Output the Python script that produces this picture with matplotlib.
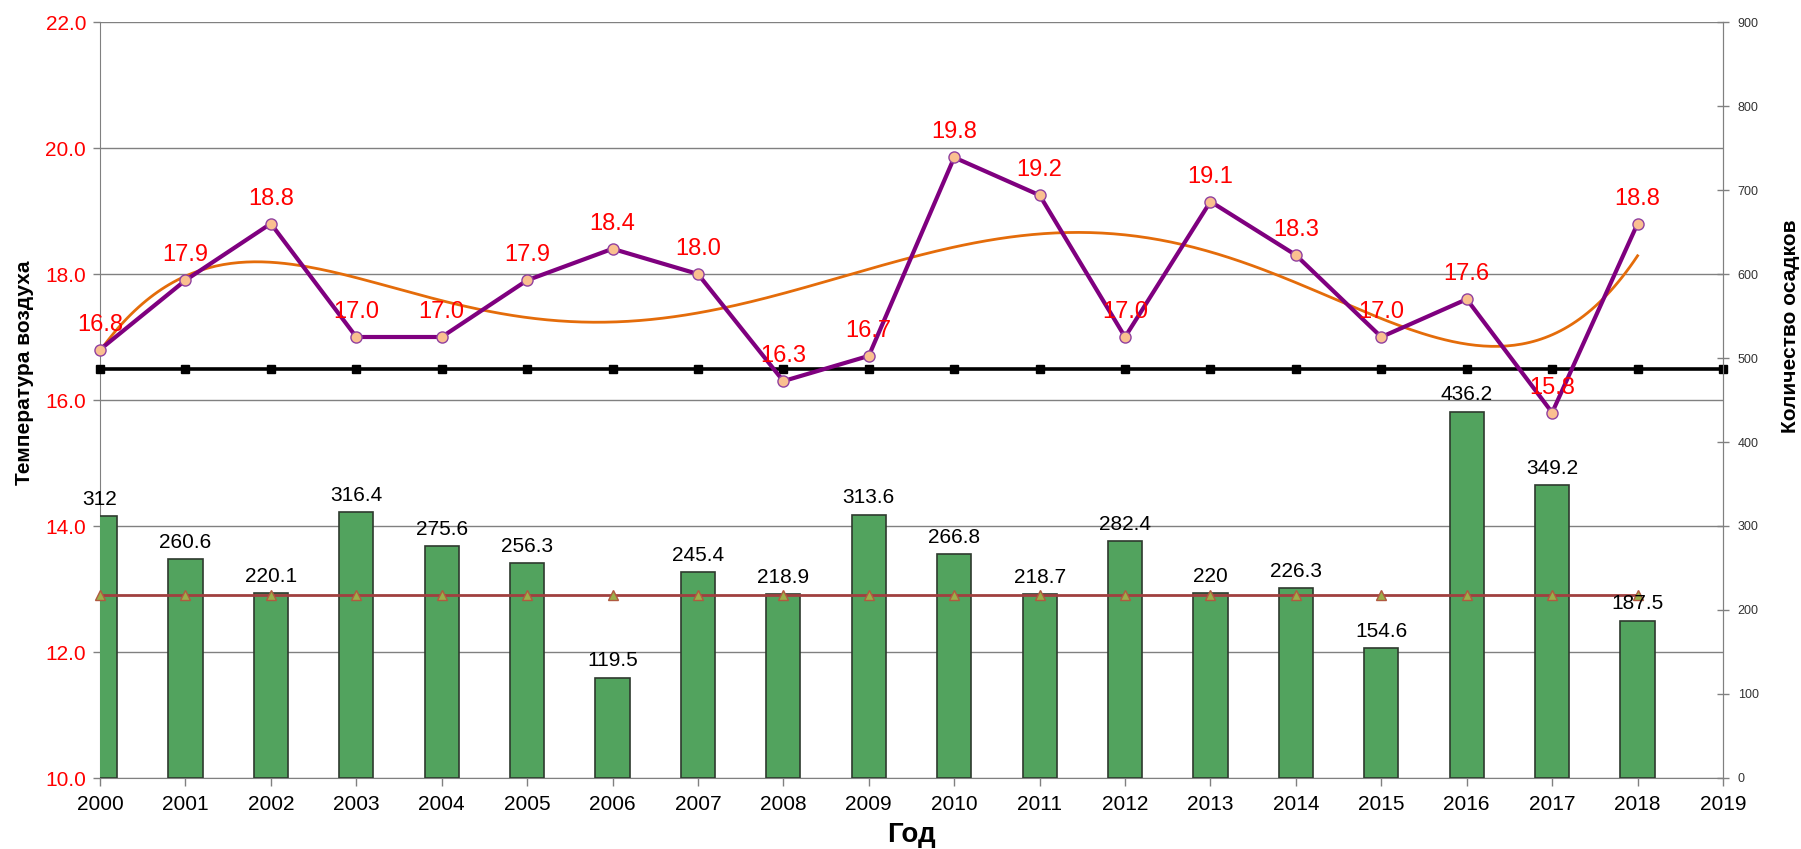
import numpy as np
import matplotlib
matplotlib.use("Agg")
import matplotlib.pyplot as plt

plt.rcParams['font.family'] = ['Liberation Sans', 'DejaVu Sans']

years = [2000, 2001, 2002, 2003, 2004, 2005, 2006, 2007, 2008, 2009,
         2010, 2011, 2012, 2013, 2014, 2015, 2016, 2017, 2018]
temperature = [16.8, 17.9, 18.8, 17.0, 17.0, 17.9, 18.4, 18.0, 16.3, 16.7,
               19.85, 19.25, 17.0, 19.15, 18.3, 17.0, 17.6, 15.8, 18.8]
temp_labels = ["16.8", "17.9", "18.8", "17.0", "17.0", "17.9", "18.4", "18.0", "16.3", "16.7",
               "19.8", "19.2", "17.0", "19.1", "18.3", "17.0", "17.6", "15.8", "18.8"]
precipitation = [312, 260.6, 220.1, 316.4, 275.6, 256.3, 119.5, 245.4, 218.9, 313.6,
                 266.8, 218.7, 282.4, 220, 226.3, 154.6, 436.2, 349.2, 187.5]
norm_years = [2000, 2001, 2002, 2003, 2004, 2005, 2006, 2007, 2008, 2009,
              2010, 2011, 2012, 2013, 2014, 2015, 2016, 2017, 2018, 2019]
temp_norm = [16.5] * len(norm_years)
precip_norm = [218] * len(years)
x_ticks = list(range(2000, 2020))

fig = plt.figure(figsize=(18.01, 8.49), dpi=100)
ax1 = fig.add_axes([100/1801, 71/849, 1623/1801, 756/849])
ax2 = ax1.twinx()

gray = '#808080'

# Left axis: temperature
ax1.set_xlim(2000, 2019)
ax1.set_ylim(10, 22)
ax1.set_yticks(np.arange(10, 22.1, 2))
ax1.set_yticklabels([f"{v:.1f}" for v in np.arange(10, 22.1, 2)])
ax1.yaxis.grid(True, color=gray, linewidth=1)
ax1.set_axisbelow(True)
ax1.set_xticks(x_ticks)
ax1.set_xticklabels([str(y) for y in x_ticks], fontsize=15)
ax1.tick_params(axis='y', colors='red', labelsize=15, length=5, width=1, direction='out', pad=5)
ax1.tick_params(axis='y', color=gray)
ax1.tick_params(axis='x', length=6, width=1, color=gray, labelcolor='black', pad=6)
for s in ['left', 'bottom', 'top']:
    ax1.spines[s].set_color(gray)
ax1.spines['top'].set_visible(False)
ax1.spines['right'].set_color(gray)

ax1.set_ylabel("Температура воздуха", fontsize=15, fontweight='bold')
ax1.yaxis.set_label_coords(-0.0407, 0.536)
ax1.set_xlabel("Год", fontsize=20, fontweight='bold', labelpad=6)

# Temperature lines
ax1.plot(norm_years, temp_norm, color='black', linewidth=2.6, marker='s',
         markersize=5.5, zorder=3, clip_on=False)
yr = np.array(years, dtype=float)
coef = np.polyfit(yr - 2000, np.array(temperature), 5)
xs = np.linspace(2000, 2018, 400)
ax1.plot(xs, np.polyval(coef, xs - 2000), color='#E46C0A', linewidth=2.0, zorder=4)
ax1.plot(years, temperature, color='#7F007F', linewidth=3.0, marker='o', markersize=8,
         markerfacecolor='#FAC090', markeredgecolor='#9040A0', markeredgewidth=1.0,
         zorder=5, clip_on=False)
for x, t, lab in zip(years, temperature, temp_labels):
    ax1.annotate(lab, (x, t), xytext=(0, 18), textcoords='offset points',
                 ha='center', va='center', color='red', fontsize=17, zorder=6)

# Right axis: precipitation
ax2.set_ylim(0, 900)
ax2.set_yticks(range(0, 901, 100))
ax2.tick_params(axis='y', labelsize=9, labelcolor='#333333', color=gray,
                direction='inout', length=9, width=1, pad=6)
ax2.spines['right'].set_color(gray)
ax2.spines['left'].set_visible(False)
ax2.spines['top'].set_visible(False)
ax2.spines['bottom'].set_visible(False)
ax2.set_ylabel("Количество осадков", fontsize=15, fontweight='bold')
ax2.yaxis.set_label_coords(1.0357, 0.597)

ax2.bar(years, precipitation, width=0.4, color='#52A35E', edgecolor='#2E3A2E',
        linewidth=1.2, zorder=2)
ax2.plot(years, precip_norm, color='#A0403F', linewidth=2.0, marker='^', markersize=7,
         markerfacecolor='#9BAF4A', markeredgecolor='#B05A40', markeredgewidth=1.0,
         zorder=3, clip_on=False)
for x, p in zip(years, precipitation):
    ax2.annotate(f"{p:g}", (x, p), xytext=(0, 12), textcoords='offset points',
                 ha='center', va='center', color='black', fontsize=15, zorder=6)

fig.savefig("out.png", dpi=100)
